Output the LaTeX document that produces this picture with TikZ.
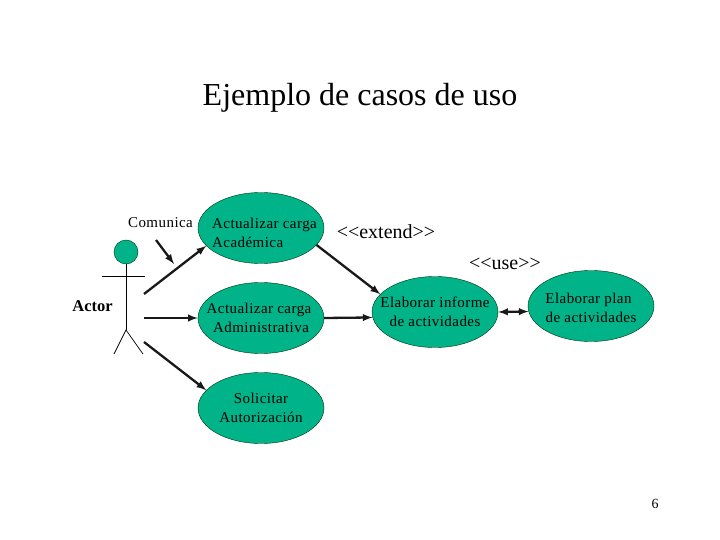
\documentclass[tikz,border=0pt]{standalone}
\usepackage{fontspec}
\setmainfont{Liberation Serif}
\newfontfamily\abierta[LetterSpace=3]{Liberation Serif}
\usetikzlibrary{shapes.geometric}
\definecolor{verdecaso}{RGB}{0,179,136}
\begin{document}
\begin{tikzpicture}[x=1pt,y=-1pt] %% tikz
	\tikzstyle{caso}=[draw=black!80!green,fill=verdecaso,ellipse,inner xsep=-30pt,inner ysep=-15pt,minimum width=126pt,minimum height=71pt,font=\abierta\fontsize{15}{19}\selectfont,align=center];
	\tikzstyle{flecha}=[-latex,line width=2.3pt,black!90];
	\tikzstyle{palo}=[line width=.7pt];
	\tikzstyle{nota}=[inner sep=0pt,font=\fontsize{20}{24}\selectfont];
	\useasboundingbox[fill=white] (0,0) rectangle (720,540);
	%% title
	\node[inner sep=0pt,font=\fontsize{32}{38}\selectfont] (titulo) at (360,98) {Ejemplo de casos de uso};
	%% use cases
	\node[caso,align=left] (EA) at (261,228) {\rule{0pt}{21pt}\hspace*{7pt}Actualizar carga\\\hspace*{7pt}Académica};
	\node[caso] (EB) at (261,318) {\hspace*{-4pt}Actualizar carga\\Administrativa};
	\node[caso] (EC) at (261,408) {Solicitar\\Autorización};
	\node[caso] (ED) at (435,312) {Elaborar informe\\de actividades};
	\node[caso] (EE) at (591,306) {\rule{0pt}{15pt}\hspace*{-5pt}Elaborar plan\\de actividades};
	%% actor
	\node[draw=black!80!green,fill=verdecaso,circle,inner sep=0pt,minimum width=24pt] (cabeza) at (126,252) {};
	\coordinate (cadera) at (126,330);
	\coordinate (manoI) at (102,276);
	\coordinate (manoD) at (145,276);
	\coordinate (pieI) at (114,354);
	\coordinate (pieD) at (143,354);
	\draw[palo] (cabeza) -- (cadera);
	\draw[palo] (manoI) -- (manoD);
	\draw[palo] (pieI) -- (cadera) -- (pieD);
	%% labels
	\node[inner sep=0pt,font=\bfseries\fontsize{16.5}{20}\selectfont] (actor) at (92.5,306.5) {Actor};
	\node[inner sep=0pt,font=\abierta\fontsize{15}{18}\selectfont] (comunica) at (160.5,222.5) {Comunica};
	\node[nota] (extend) at (386,232) {<{}<extend>{}>};
	\node[nota] (use) at (505,263.5) {<{}<use>{}>};
	\node[inner sep=0pt,font=\fontsize{14}{17}\selectfont] (pagina) at (655,504) {6};
	%% free ends at the actor
	\coordinate (sA) at (144,294);
	\coordinate (sB) at (144,318);
	\coordinate (sC) at (144,342);
	\coordinate (cA) at (156,240);
	\coordinate (cB) at (174,264);
	%% arrows
	\draw[flecha] (sA) -- (EA.198);
	\draw[flecha] (sB) -- (EB.west);
	\draw[flecha] (sC) -- (EC.162);
	\draw[flecha] (cA) -- (cB);
	\draw[flecha] (EA.-17) -- (ED.162);
	\draw[flecha] (EB.east) -- (ED.185.5);
	\draw[latex-latex,line width=2.3pt,black!90] (ED.east) -- (EE.185.5);
\end{tikzpicture}
\end{document}
